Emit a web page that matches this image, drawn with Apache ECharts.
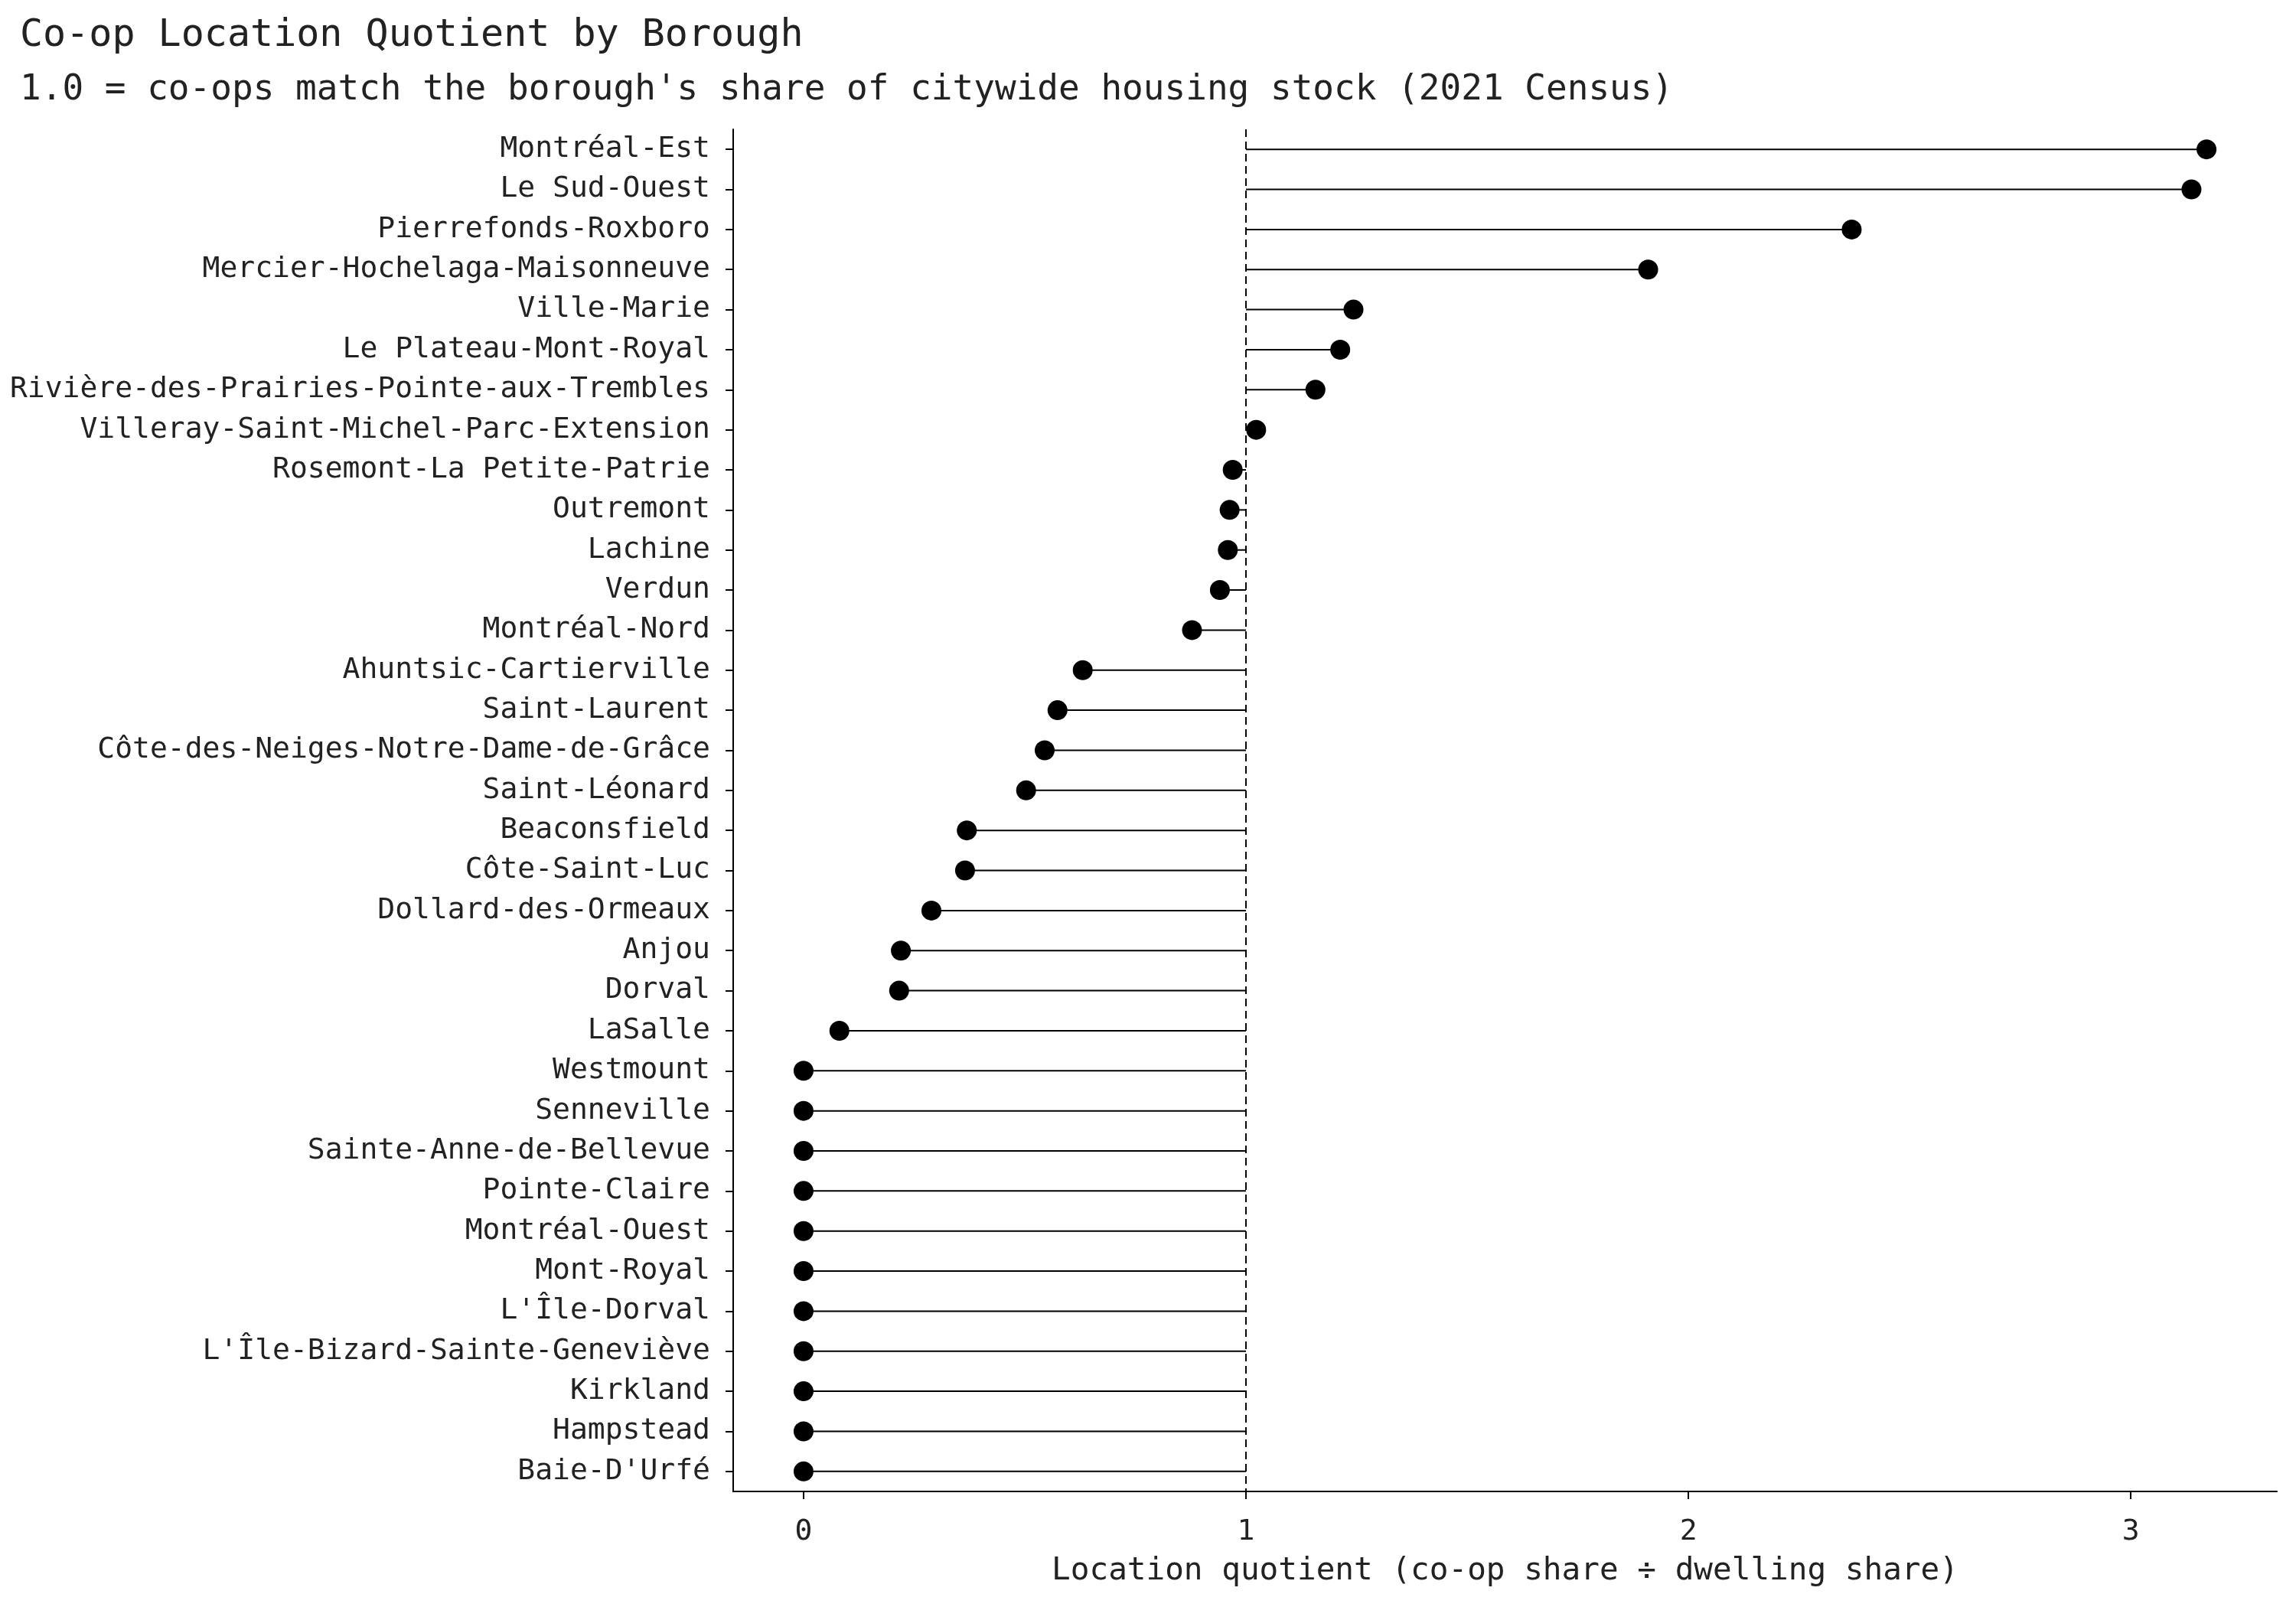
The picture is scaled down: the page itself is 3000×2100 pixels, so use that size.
<!DOCTYPE html>
<html>
<head>
<meta charset="utf-8">
<script src="https://cdn.jsdelivr.net/npm/echarts@6/dist/echarts.min.js"></script>
<style>html,body{margin:0;padding:0;background:#fff}#c{width:3000px;height:2100px}</style>
</head>
<body>
<div id="c"></div>
<script>
const boroughs = [
  "Montréal-Est","Le Sud-Ouest","Pierrefonds-Roxboro","Mercier-Hochelaga-Maisonneuve",
  "Ville-Marie","Le Plateau-Mont-Royal","Rivière-des-Prairies-Pointe-aux-Trembles",
  "Villeray-Saint-Michel-Parc-Extension","Rosemont-La Petite-Patrie","Outremont","Lachine",
  "Verdun","Montréal-Nord","Ahuntsic-Cartierville","Saint-Laurent",
  "Côte-des-Neiges-Notre-Dame-de-Grâce","Saint-Léonard","Beaconsfield","Côte-Saint-Luc",
  "Dollard-des-Ormeaux","Anjou","Dorval","LaSalle","Westmount","Senneville",
  "Sainte-Anne-de-Bellevue","Pointe-Claire","Montréal-Ouest","Mont-Royal","L'Île-Dorval",
  "L'Île-Bizard-Sainte-Geneviève","Kirkland","Hampstead","Baie-D'Urfé"
];
const locationQuotient = [
  3.171, 3.137, 2.369, 1.909,
  1.243, 1.213, 1.157,
  1.023, 0.970, 0.963, 0.959,
  0.941, 0.878, 0.631, 0.574,
  0.545, 0.503, 0.369, 0.365,
  0.289, 0.220, 0.216, 0.081, 0, 0,
  0, 0, 0, 0, 0,
  0, 0, 0, 0
];
const referenceLine = 1;
const xTicks = [0, 1, 2, 3];
const xMin = -0.159, xMax = 3.33;

const titleText = "Co-op Location Quotient by Borough";
const subtitleText = "1.0 = co-ops match the borough's share of citywide housing stock (2021 Census)";
const xAxisTitle = "Location quotient (co-op share ÷ dwelling share)";

const FONT = "DejaVu Sans Mono";
const TXT = "#222";
const pts = locationQuotient.map((v, i) => [v, boroughs[i]]);

const chart = echarts.init(document.getElementById('c'), null, {renderer: 'canvas'});
chart.setOption({
  backgroundColor: '#ffffff',
  animation: false,
  title: [
    {text: titleText, left: 21, top: 17, textStyle: {fontFamily: FONT, fontSize: 50, fontWeight: 'normal', color: TXT}},
    {text: subtitleText, left: 21, top: 90, textStyle: {fontFamily: FONT, fontSize: 46, fontWeight: 'normal', color: TXT}}
  ],
  grid: {left: 958, right: 25, top: 169, height: 1780, containLabel: false},
  xAxis: {
    type: 'value', min: xMin, max: xMax,
    name: xAxisTitle, nameLocation: 'middle', nameGap: 84,
    nameTextStyle: {fontFamily: FONT, fontSize: 41, color: TXT},
    axisLine: {show: true, onZero: false, lineStyle: {color: '#000', width: 2}},
    axisTick: {show: true, length: 10, lineStyle: {color: '#000', width: 2}, customValues: xTicks},
    axisLabel: {fontFamily: FONT, fontSize: 38, color: TXT, margin: 34, customValues: xTicks},
    splitLine: {show: false}
  },
  yAxis: {
    type: 'category', data: boroughs, inverse: true,
    axisLine: {show: true, onZero: false, lineStyle: {color: '#000', width: 2}},
    axisTick: {show: true, alignWithLabel: true, length: 10, lineStyle: {color: '#000', width: 2}},
    axisLabel: {fontFamily: FONT, fontSize: 38, color: TXT, margin: 30},
    splitLine: {show: false}
  },
  series: [
    {
      type: 'custom',
      data: pts,
      encode: {x: 0, y: 1},
      renderItem: function (params, api) {
        const p0 = api.coord([api.value(0), api.value(1)]);
        const p1 = api.coord([referenceLine, api.value(1)]);
        return {type: 'line', shape: {x1: p0[0], y1: p0[1], x2: p1[0], y2: p1[1]},
                style: {stroke: '#000', lineWidth: 2}};
      },
      z: 2
    },
    {
      type: 'scatter',
      data: pts,
      symbol: 'circle',
      symbolSize: 26,
      itemStyle: {color: '#000', opacity: 1},
      z: 3,
      markLine: {
        silent: true, symbol: 'none',
        label: {show: false},
        lineStyle: {color: '#000', width: 2, type: [10, 6], opacity: 1},
        data: [{xAxis: referenceLine}]
      }
    }
  ]
});
</script>
</body>
</html>
